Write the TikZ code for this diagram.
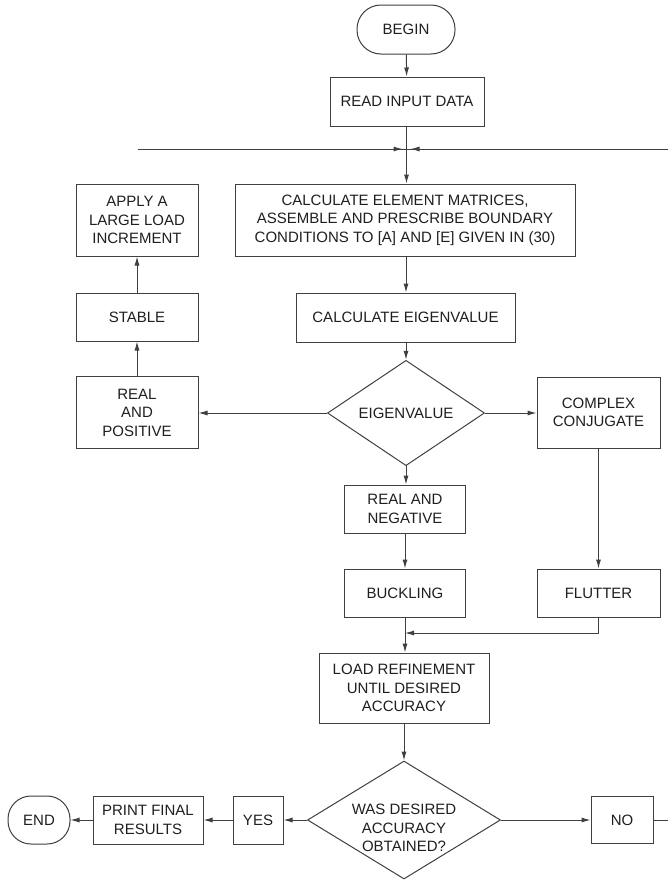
\documentclass[tikz,border=0pt]{standalone}
\usepackage{fontspec}
\setmainfont{Liberation Sans}
\usetikzlibrary{arrows.meta,shapes.geometric}
\begin{document}
\begin{tikzpicture}[x=1pt,y=-1pt,
  every node/.style={font=\fontsize{15}{18.5}\selectfont, text=black!88},
  box/.style={draw=black!75, line width=1pt, rectangle, align=center, inner sep=2pt},
  term/.style={box, rounded corners=24pt},
  dia/.style={draw=black!75, line width=1pt, diamond, align=center, inner sep=0pt},
  conn/.style={draw=black!75, line width=1pt},
  arr/.style={conn, -{Latex[length=9pt,width=5pt]}}
]
\useasboundingbox (0,0) rectangle (668,881);
\fill[white] (0,0) rectangle (668,881);

% main column
\node[term, minimum width=98pt, minimum height=49pt] (begin) at (406,29.5) {BEGIN};
\node[box, minimum width=154pt, minimum height=49pt] (read) at (407,101.5) {READ INPUT DATA};
\node[box, minimum width=340pt, minimum height=72pt] (calc) at (405,220) {CALCULATE ELEMENT MATRICES,\\ASSEMBLE AND PRESCRIBE BOUNDARY\\CONDITIONS TO [A] AND [E] GIVEN IN (30)};
\node[box, minimum width=219pt, minimum height=49pt] (eig) at (405.5,317.5) {CALCULATE EIGENVALUE};
\node[dia, minimum width=157pt, minimum height=70pt] (eigd) at (406,413) {EIGENVALUE};
\node[box, minimum width=121pt, minimum height=48pt] (realneg) at (405,509) {REAL AND\\NEGATIVE};
\node[box, minimum width=121pt, minimum height=48pt] (buck) at (405,593) {BUCKLING};
\node[box, minimum width=170pt, minimum height=70pt] (loadref) at (404,688) {LOAD REFINEMENT\\UNTIL DESIRED\\ACCURACY};
\node[dia, minimum width=193pt, minimum height=118pt] (acc) at (404,820) {};
\node[align=center] (acclabel) at (404,828) {WAS DESIRED\\ACCURACY\\OBTAINED?};

% left column
\node[box, minimum width=122pt, minimum height=72pt] (apply) at (137,220) {APPLY A\\LARGE LOAD\\INCREMENT};
\node[box, minimum width=122pt, minimum height=48pt] (stable) at (137,317) {STABLE};
\node[box, minimum width=122pt, minimum height=72pt] (realpos) at (137,412.5) {REAL\\AND\\POSITIVE};

% right column
\node[box, minimum width=123pt, minimum height=71pt] (complex) at (598.5,412.5) {COMPLEX\\CONJUGATE};
\node[box, minimum width=123pt, minimum height=48pt] (flutter) at (598.5,593) {FLUTTER};

% bottom row
\node[box, minimum width=62pt, minimum height=47pt] (no) at (622,820) {NO};
\node[box, minimum width=50pt, minimum height=48pt] (yes) at (258,820) {YES};
\node[box, minimum width=110pt, minimum height=48pt] (print) at (148,820) {PRINT FINAL\\RESULTS};
\node[term, minimum width=62pt, minimum height=48pt, rounded corners=23pt] (end) at (39,820) {END};

% coordinates
\coordinate (hl) at (138,149);
\coordinate (hr) at (668,149);
\coordinate (j) at (406.5,149);
\coordinate (m) at (405,633);
\coordinate (noout) at (668,820);

% connectors
\draw[arr] (begin) -- (read);
\draw[arr] (read.south -| j) -- (calc.north -| j);
\draw[conn] (hl) -- (hr);
\draw[arr, shorten >=4pt] (hl) -- (j);
\draw[arr, shorten >=4pt] (hr) -- (j);
\draw[arr] (calc.south -| eigd) -- (eig.north -| eigd);
\draw[arr] (eig.south -| eigd) -- (eigd.north);
\draw[arr] (eigd.west) -- (eigd.west -| realpos.east);
\draw[arr] (eigd.east) -- (eigd.east -| complex.west);
\draw[arr] (eigd.south) -- (realneg.north -| eigd);
\draw[arr] (realpos) -- (stable);
\draw[arr] (stable) -- (apply);
\draw[arr] (realneg.south -| m) -- (buck.north -| m);
\draw[arr] (buck.south -| m) -- (loadref.north -| m);
\draw[arr] (complex) -- (flutter);
\draw[arr] (flutter.south) |- (m);
\draw[arr] (loadref.south -| acc) -- (acc.north);
\draw[arr] (acc.east) -- (no.west);
\draw[conn] (no.east) -- (noout);
\draw[arr] (acc.west) -- (yes.east);
\draw[arr] (yes) -- (print);
\draw[arr] (print) -- (end);
\end{tikzpicture}
\end{document}
